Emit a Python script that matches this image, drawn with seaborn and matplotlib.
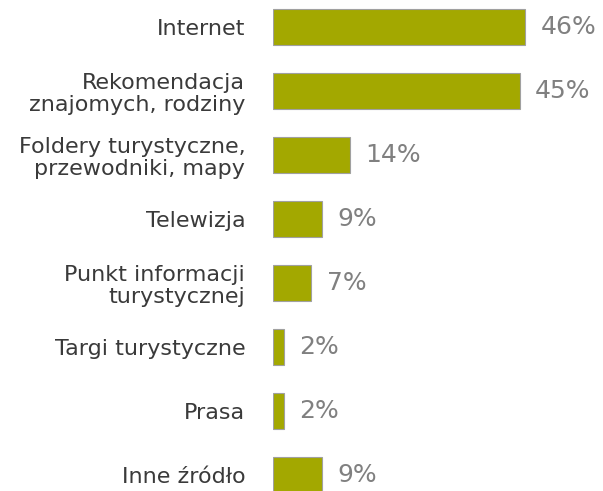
import matplotlib
matplotlib.use("Agg")
import matplotlib.pyplot as plt
import seaborn as sns
import pandas as pd

categories = ["Internet", "Rekomendacja\nznajomych, rodziny", "Foldery turystyczne,\nprzewodniki, mapy",
              "Telewizja", "Punkt informacji\nturystycznej", "Targi turystyczne", "Prasa", "Inne źródło"]
values = [46, 45, 14, 9, 7, 2, 2, 9]

sns.set_theme(style="white")
plt.rcParams['font.family'] = ['DejaVu Sans']

df = pd.DataFrame({"cat": categories, "val": values})

fig = plt.figure(figsize=(6.03, 4.91), dpi=100)
ax = fig.add_axes([273/603, 0, 330/603, 1])
sns.barplot(data=df, y="cat", x="val", orient="h", color="#A3A800", saturation=1,
            width=0.56, edgecolor="#A0A0A0", linewidth=0.8, ax=ax)
ax.set_xlim(0, 60.2)
ax.set_ylim(7.25, -0.42)
for s in ax.spines.values():
    s.set_visible(False)
ax.set_xticks([])
ax.set_xlabel("")
ax.set_ylabel("")
ax.tick_params(axis="y", length=0, pad=20)
for lab in ax.get_yticklabels():
    lab.set_fontsize(16)
    lab.set_color("#3a3a3a")
    lab.set_multialignment("right")
    lab.set_linespacing(1.12)
ax.bar_label(ax.containers[0], labels=[f"{v}%" for v in values], padding=11,
             fontsize=18, color="#808080")
fig.savefig("out.png", dpi=100)
